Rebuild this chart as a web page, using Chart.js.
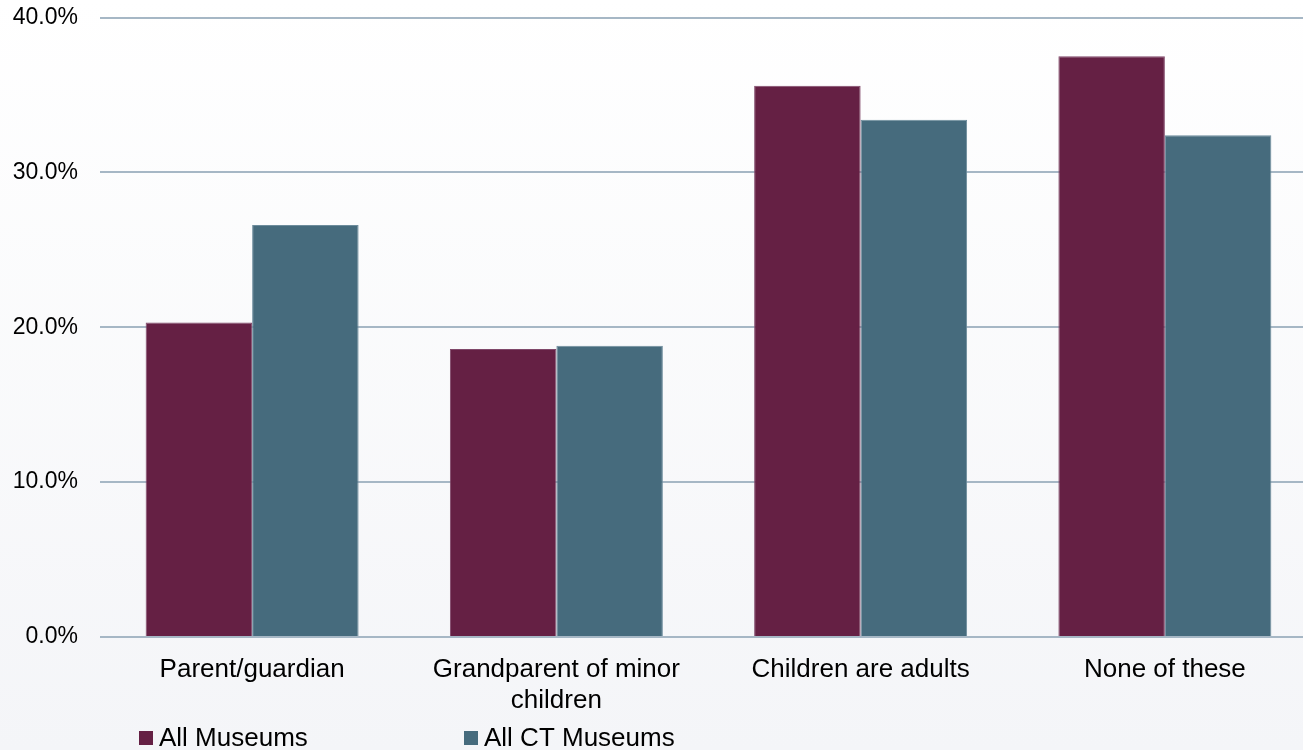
<!DOCTYPE html>
<html>
<head>
<meta charset="utf-8">
<script src="https://cdn.jsdelivr.net/npm/chart.js@4.4.0/dist/chart.umd.min.js"></script>
<style>
  html, body { margin: 0; padding: 0; background: #ffffff; overflow: hidden; }
  #wrap { width: 1303px; height: 750px; position: relative; overflow: hidden; }
</style>
</head>
<body>
<div id="wrap"><canvas id="c" width="1317" height="750"></canvas></div>
<script>
// Share of visitors by parental status
const categories = [
  "Parent/guardian",
  ["Grandparent of minor", "children"],
  "Children are adults",
  "None of these"
];
const allMuseums   = [20.3, 18.6, 35.6, 37.5];
const allCTMuseums = [26.6, 18.8, 33.4, 32.4];
const seriesNames  = ["All Museums", "All CT Museums"];
const yTicks       = [0, 10, 20, 30, 40];

const FONT = "'Liberation Sans', Arial, sans-serif";

// Soft vertical wash behind the whole chart
const backdrop = {
  id: 'backdrop',
  beforeDraw(chart) {
    const { ctx, width, height } = chart;
    const g = ctx.createLinearGradient(0, 0, 0, height);
    g.addColorStop(0, '#ffffff');
    g.addColorStop(1, '#f4f5f8');
    ctx.save();
    ctx.fillStyle = g;
    ctx.fillRect(0, 0, width, height);
    ctx.restore();
  }
};

// Legend row along the bottom edge
const bottomLegend = {
  id: 'bottomLegend',
  afterDraw(chart) {
    const { ctx } = chart;
    const starts = [139, 464];
    ctx.save();
    ctx.font = `26px ${FONT}`;
    ctx.textBaseline = 'alphabetic';
    ctx.textAlign = 'left';
    chart.data.datasets.forEach((ds, i) => {
      const x = starts[i];
      ctx.fillStyle = ds.backgroundColor;
      ctx.fillRect(x, 731, 14, 14);
      ctx.fillStyle = '#000000';
      ctx.fillText(ds.label, x + 20, 745.5);
    });
    ctx.restore();
  }
};

new Chart(document.getElementById('c'), {
  type: 'bar',
  data: {
    labels: categories,
    datasets: [
      {
        label: seriesNames[0],
        data: allMuseums,
        backgroundColor: '#652044',
        borderColor: '#80486a',
        borderWidth: 1,
        borderSkipped: 'start'
      },
      {
        label: seriesNames[1],
        data: allCTMuseums,
        backgroundColor: '#466b7d',
        borderColor: '#6d8c9c',
        borderWidth: 1,
        borderSkipped: 'start'
      }
    ]
  },
  options: {
    responsive: false,
    animation: false,
    events: [],
    layout: { padding: { top: 17.5, right: 0, bottom: 0, left: 0 } },
    datasets: {
      bar: { categoryPercentage: 0.70, barPercentage: 1.0 }
    },
    plugins: {
      legend: { display: false },
      tooltip: { enabled: false },
      title: { display: false }
    },
    scales: {
      x: {
        grid: { display: false, drawTicks: false },
        border: { display: false },
        ticks: {
          color: '#000000',
          font: { family: FONT, size: 26 },
          padding: 17,
          maxRotation: 0,
          autoSkip: false
        },
        afterFit(scale) {
          scale.height = 113;
          scale.paddingLeft = 0;
          scale.paddingRight = 0;
        }
      },
      y: {
        min: 0,
        max: 40,
        afterBuildTicks(scale) {
          scale.ticks = yTicks.map(v => ({ value: v }));
        },
        grid: {
          color: '#a6b7c5',
          lineWidth: 2,
          drawTicks: false
        },
        border: { display: false },
        ticks: {
          color: '#000000',
          font: { family: FONT, size: 23 },
          padding: 22,
          callback: v => v.toFixed(1) + '%'
        },
        afterFit(scale) {
          scale.width = 100;
          scale.paddingTop = 0;
          scale.paddingBottom = 0;
        }
      }
    }
  },
  plugins: [backdrop, bottomLegend]
});
</script>
</body>
</html>
